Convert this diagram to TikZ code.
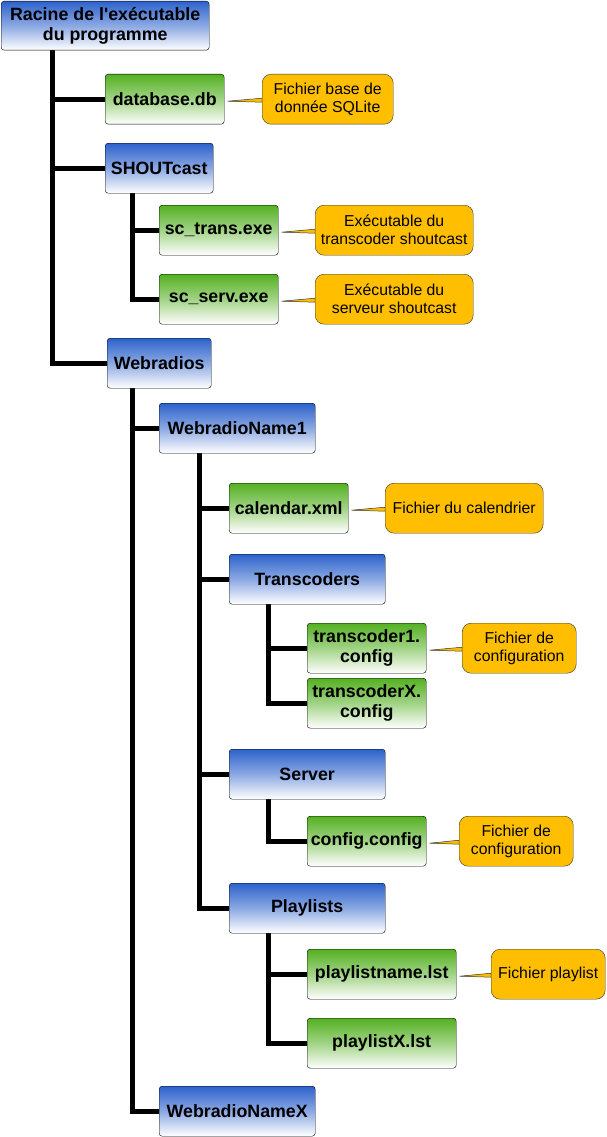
\documentclass[tikz,border=0pt]{standalone}
\usepackage{fontspec}
\setmainfont{Liberation Sans}
\usetikzlibrary{backgrounds}
\definecolor{dirblue}{RGB}{45,98,204}
\definecolor{filegreen}{RGB}{84,176,34}
\definecolor{noteorange}{RGB}{255,191,0}
\begin{document}
\begin{tikzpicture}[
      x=1pt, y=-1pt,
      box/.style={draw=black, rounded corners=3pt, align=center, inner sep=0pt,
        font=\bfseries\fontsize{17.8}{20}\selectfont, minimum height=50pt, anchor=north west},
      dir/.style={box, top color=dirblue, bottom color=white, middle color=dirblue!55!white},
      file/.style={box, top color=filegreen, bottom color=white, middle color=filegreen!55!white},
      note/.style={draw=black!80, fill=noteorange, rounded corners=9pt, align=center, inner sep=0pt,
        font=\fontsize{15.8}{18}\selectfont, minimum height=50pt, anchor=north west},
      tree/.style={line width=5pt, black},
      tip/.style={fill=noteorange, draw=black!80, line width=0.5pt}
    ]
      \useasboundingbox (0,0) rectangle (606,1137);

      % Program root and first level
      \node[dir, minimum width=208pt, minimum height=49pt] (root) at (1,1) {Racine de l\textquotesingle exécutable\\du programme};
      \node[file, minimum width=119pt] (database) at (105,74) {database.db};
      \node[dir, minimum width=108pt] (shoutcast) at (105,143) {SHOUTcast};
      \node[file, minimum width=119pt] (sctrans) at (159,205) {sc\_trans.exe};
      \node[file, minimum width=119pt] (scserv) at (159,274) {sc\_serv.exe};
      \node[dir, minimum width=104pt] (webradios) at (107,338) {Webradios};

      % One webradio folder
      \node[dir, minimum width=156pt] (wrname1) at (159,403) {WebradioName1};
      \node[file, minimum width=119pt] (calendar) at (229,483) {calendar.xml};
      \node[dir, minimum width=156pt] (transcoders) at (229,554) {Transcoders};
      \node[file, minimum width=119pt] (tc1) at (307,623) {transcoder1.\\config};
      \node[file, minimum width=119pt] (tcx) at (307,678) {transcoderX.\\config};
      \node[dir, minimum width=156pt] (server) at (229,749) {Server};
      \node[file, minimum width=119pt] (configcfg) at (307,816) {config.config};
      \node[dir, minimum width=156pt] (playlists) at (229,883) {Playlists};
      \node[file, minimum width=149pt] (plname) at (307,949) {playlistname.lst};
      \node[file, minimum width=149pt] (plx) at (307,1018) {playlistX.lst};
      \node[dir, minimum width=156pt] (wrnamex) at (159,1086) {WebradioNameX};

      % Notes
      \node[note, minimum width=131pt] (nsqlite) at (262,74) {Fichier base de\\donnée SQLite};
      \node[note, minimum width=158pt] (ntrans) at (315,205) {Exécutable du\\transcoder shoutcast};
      \node[note, minimum width=158pt] (nserv) at (315,274) {Exécutable du\\serveur shoutcast};
      \node[note, minimum width=158pt] (ncal) at (385,483) {Fichier du calendrier};
      \node[note, minimum width=114pt] (ntc) at (462,623) {Fichier de\\configuration};
      \node[note, minimum width=114pt] (ncfg) at (459,816) {Fichier de\\configuration};
      \node[note, minimum width=114pt] (npl) at (491,949) {Fichier playlist};

      \begin{scope}[on background layer]
        % Tree lines
        \draw[tree] ([xshift=51pt]root.south west) |- (database.west);
        \draw[tree] ([xshift=51pt]root.south west) |- (shoutcast.west);
        \draw[tree] ([xshift=51pt]root.south west) |- (webradios.west);
        \draw[tree] ([xshift=27pt]shoutcast.south west) |- (sctrans.west);
        \draw[tree] ([xshift=27pt]shoutcast.south west) |- (scserv.west);
        \draw[tree] ([xshift=25pt]webradios.south west) |- (wrname1.west);
        \draw[tree] ([xshift=25pt]webradios.south west) |- (wrnamex.west);
        \draw[tree] ([xshift=40pt]wrname1.south west) |- (calendar.west);
        \draw[tree] ([xshift=40pt]wrname1.south west) |- (transcoders.west);
        \draw[tree] ([xshift=40pt]wrname1.south west) |- (server.west);
        \draw[tree] ([xshift=40pt]wrname1.south west) |- (playlists.west);
        \draw[tree] ([xshift=39pt]transcoders.south west) |- (tc1.west);
        \draw[tree] ([xshift=39pt]transcoders.south west) |- (tcx.west);
        \draw[tree] ([xshift=39pt]server.south west) |- (configcfg.west);
        \draw[tree] ([xshift=39pt]playlists.south west) |- (plname.west);
        \draw[tree] ([xshift=39pt]playlists.south west) |- (plx.west);

        % Note pointers
        \filldraw[tip] ([xshift=3pt,yshift=-2pt]database.east) -- ([yshift=1pt]nsqlite.west) -- ([yshift=-3pt]nsqlite.west) -- cycle;
        \filldraw[tip] ([xshift=3pt,yshift=-2pt]sctrans.east) -- ([yshift=1pt]ntrans.west) -- ([yshift=-3pt]ntrans.west) -- cycle;
        \filldraw[tip] ([xshift=3pt,yshift=-2pt]scserv.east) -- ([yshift=1pt]nserv.west) -- ([yshift=-3pt]nserv.west) -- cycle;
        \filldraw[tip] ([xshift=3pt,yshift=-2pt]calendar.east) -- ([yshift=1pt]ncal.west) -- ([yshift=-3pt]ncal.west) -- cycle;
        \filldraw[tip] ([xshift=3pt,yshift=-2pt]tc1.east) -- ([yshift=1pt]ntc.west) -- ([yshift=-3pt]ntc.west) -- cycle;
        \filldraw[tip] ([xshift=3pt,yshift=-2pt]configcfg.east) -- ([yshift=1pt]ncfg.west) -- ([yshift=-3pt]ncfg.west) -- cycle;
        \filldraw[tip] ([xshift=3pt,yshift=-2pt]plname.east) -- ([yshift=1pt]npl.west) -- ([yshift=-3pt]npl.west) -- cycle;
      \end{scope}
    \end{tikzpicture}
\end{document}
